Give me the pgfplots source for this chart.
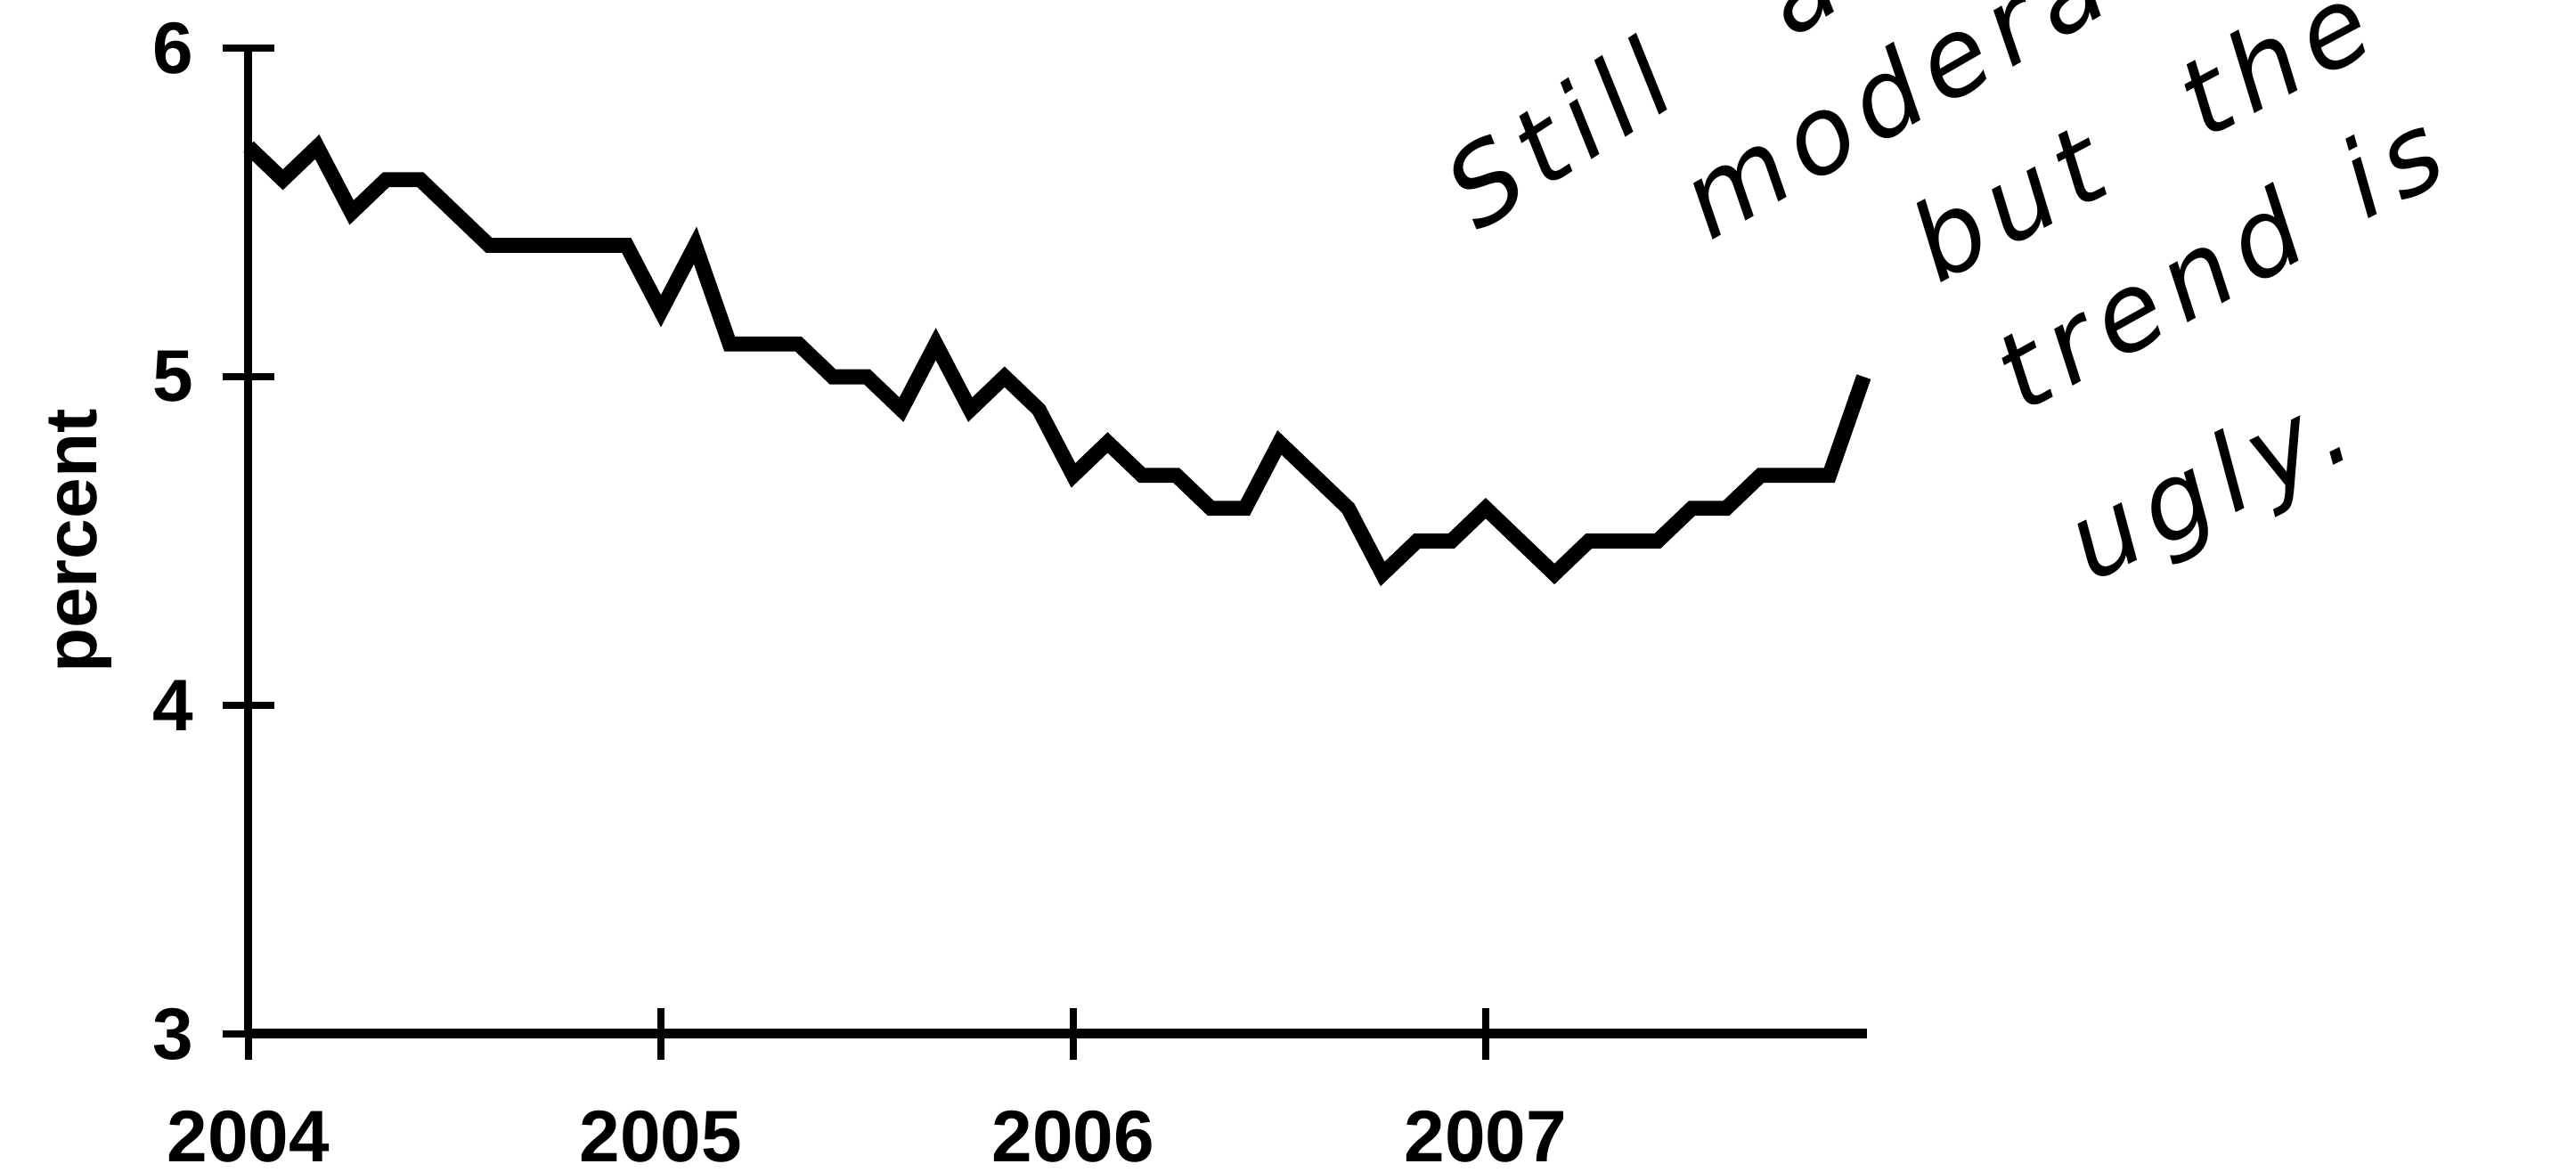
\documentclass[border=0pt]{standalone}
\usepackage{fontspec}
\setmainfont{Liberation Sans}
\newfontfamily\hand[LetterSpace=10]{DejaVu Sans}
\usepackage{pgfplots}
\pgfplotsset{compat=1.18}
\begin{document}
\begin{tikzpicture}
\useasboundingbox (-69.75pt,-38.75pt) rectangle (653.25pt,290.25pt);
\begin{axis}[
  at={(0pt,0pt)}, anchor=south west,
  scale only axis, width=454.3pt, height=276.7pt,
  xmin=0, xmax=47.1, ymin=3, ymax=6,
  axis x line=bottom, axis y line=left,
  x axis line style={-, line width=2.75pt},
  y axis line style={-, line width=2.25pt},
  xtick={0,12,24,36}, xticklabels={2004,2005,2006,2007},
  ytick={3,4,5,6}, yticklabels={3,4,5,6},
  tick align=center, major tick length=14.5pt,
  every tick/.style={black, line width=2pt},
  tick label style={font=\bfseries\fontsize{20.5}{24}\selectfont},
  xticklabel style={yshift=-10.8pt},
  yticklabel style={xshift=-4.8pt},
  ylabel={percent},
  ylabel style={at={(axis description cs:0,0.5)}, anchor=base, yshift=42.5pt, font=\bfseries\fontsize{20.5}{24}\selectfont},
  clip=false,
]
\addplot[black, line width=4.2pt] coordinates {
(0,5.7) (1,5.6) (2,5.7) (3,5.5) (4,5.6) (5,5.6) (6,5.5) (7,5.4) (8,5.4) (9,5.4) (10,5.4) (11,5.4)
(12,5.2) (13,5.4) (14,5.1) (15,5.1) (16,5.1) (17,5.0) (18,5.0) (19,4.9) (20,5.1) (21,4.9) (22,5.0) (23,4.9)
(24,4.7) (25,4.8) (26,4.7) (27,4.7) (28,4.6) (29,4.6) (30,4.8) (31,4.7) (32,4.6) (33,4.4) (34,4.5) (35,4.5)
(36,4.6) (37,4.5) (38,4.4) (39,4.5) (40,4.5) (41,4.5) (42,4.6) (43,4.6) (44,4.7) (45,4.7) (46,4.7) (47,5.0)
};
\end{axis}
\begin{scope}
\clip (-69.75pt,-38.75pt) rectangle (653.25pt,290.25pt);
\tikzset{hw/.style={anchor=base west, inner sep=0pt, font=\hand\itshape\fontsize{30}{36}\selectfont}}
\node[hw, rotate=33] at (345pt,224.75pt) {Still};
\node[hw, rotate=33] at (433pt,279pt) {a};
\node[hw, rotate=30] at (410pt,222.25pt) {moderate};
\node[hw, rotate=28] at (474pt,210.25pt) {but};
\node[hw, rotate=28] at (549pt,250.75pt) {the};
\node[hw, rotate=29] at (498pt,174pt) {trend};
\node[hw, rotate=27] at (594pt,228.25pt) {is};
\node[hw, rotate=26] at (517pt,126.5pt) {ugly.};
\end{scope}
\end{tikzpicture}
\end{document}
